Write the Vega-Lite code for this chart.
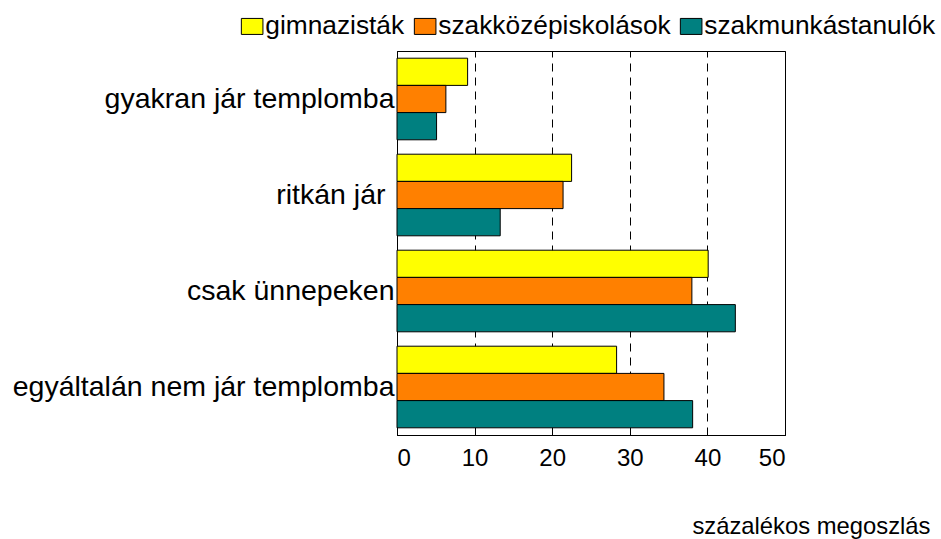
{
  "$schema": "https://vega.github.io/schema/vega-lite/v6.json",
  "width": 388,
  "height": 384,
  "autosize": {"type": "none"},
  "padding": {"left": 397, "top": 51, "right": 156, "bottom": 104},
  "background": "white",
  "config": {
    "font": "Liberation Sans",
    "view": {"stroke": "black", "strokeWidth": 1}
  },
  "data": {
    "values": [
      {"kategoria": "gyakran jár templomba", "csoport": "gimnazisták", "ertek": 9.1},
      {"kategoria": "gyakran jár templomba", "csoport": "szakközépiskolások", "ertek": 6.3},
      {"kategoria": "gyakran jár templomba", "csoport": "szakmunkástanulók", "ertek": 5.1},
      {"kategoria": "ritkán jár ", "csoport": "gimnazisták", "ertek": 22.5},
      {"kategoria": "ritkán jár ", "csoport": "szakközépiskolások", "ertek": 21.4},
      {"kategoria": "ritkán jár ", "csoport": "szakmunkástanulók", "ertek": 13.3},
      {"kategoria": "csak ünnepeken", "csoport": "gimnazisták", "ertek": 40.1},
      {"kategoria": "csak ünnepeken", "csoport": "szakközépiskolások", "ertek": 38.0},
      {"kategoria": "csak ünnepeken", "csoport": "szakmunkástanulók", "ertek": 43.6},
      {"kategoria": "egyáltalán nem jár templomba", "csoport": "gimnazisták", "ertek": 28.3},
      {"kategoria": "egyáltalán nem jár templomba", "csoport": "szakközépiskolások", "ertek": 34.4},
      {"kategoria": "egyáltalán nem jár templomba", "csoport": "szakmunkástanulók", "ertek": 38.1}
    ]
  },
  "mark": {"type": "bar", "stroke": "black", "strokeWidth": 1},
  "encoding": {
    "y": {
      "field": "kategoria",
      "type": "nominal",
      "sort": ["gyakran jár templomba", "ritkán jár ", "csak ünnepeken", "egyáltalán nem jár templomba"],
      "scale": {"paddingInner": 0.15, "paddingOuter": 0.075},
      "axis": {
        "title": null,
        "ticks": false,
        "labelPadding": {"condition": {"test": "datum.value === 'ritkán jár '", "value": 12}, "value": 3},
        "labelFontSize": 28.5,
        "labelColor": "black",
        "labelLimit": 600,
        "domainColor": "black",
        "grid": false
      }
    },
    "yOffset": {
      "field": "csoport",
      "type": "nominal",
      "sort": ["gimnazisták", "szakközépiskolások", "szakmunkástanulók"],
      "scale": {"paddingInner": 0, "paddingOuter": 0}
    },
    "x": {
      "field": "ertek",
      "type": "quantitative",
      "scale": {"domain": [0, 50], "nice": false},
      "axis": {
        "values": [0, 10, 20, 30, 40, 50],
        "title": "százalékos megoszlás",
        "titleFontSize": 23.8,
        "titleFontWeight": "normal",
        "titleColor": "black",
        "titleAlign": "right",
        "titleAnchor": "end",
        "titleX": 533,
        "titleY": 98,
        "titleBaseline": "alphabetic",
        "labelFontSize": 24,
        "labelColor": "black",
        "labelPadding": 15,
        "tickSize": -4,
        "tickColor": "black",
        "domainColor": "black",
        "grid": true,
        "gridColor": "black",
        "gridDash": [8, 6],
        "gridWidth": 1
      }
    },
    "color": {
      "field": "csoport",
      "type": "nominal",
      "sort": ["gimnazisták", "szakközépiskolások", "szakmunkástanulók"],
      "scale": {
        "domain": ["gimnazisták", "szakközépiskolások", "szakmunkástanulók"],
        "range": ["#FFFF00", "#FF8000", "#008080"]
      },
      "legend": {
        "title": null,
        "orient": "none",
        "legendX": -158,
        "legendY": -38,
        "direction": "horizontal",
        "columns": 3,
        "columnPadding": 7,
        "symbolType": "M-1.35,-1H1.35V1H-1.35Z",
        "symbolSize": 256,
        "symbolStrokeColor": "black",
        "symbolStrokeWidth": 1,
        "symbolOpacity": 1,
        "labelFontSize": 26.3,
        "labelColor": "black",
        "labelOffset": 0,
        "labelLimit": 400
      }
    }
  }
}
